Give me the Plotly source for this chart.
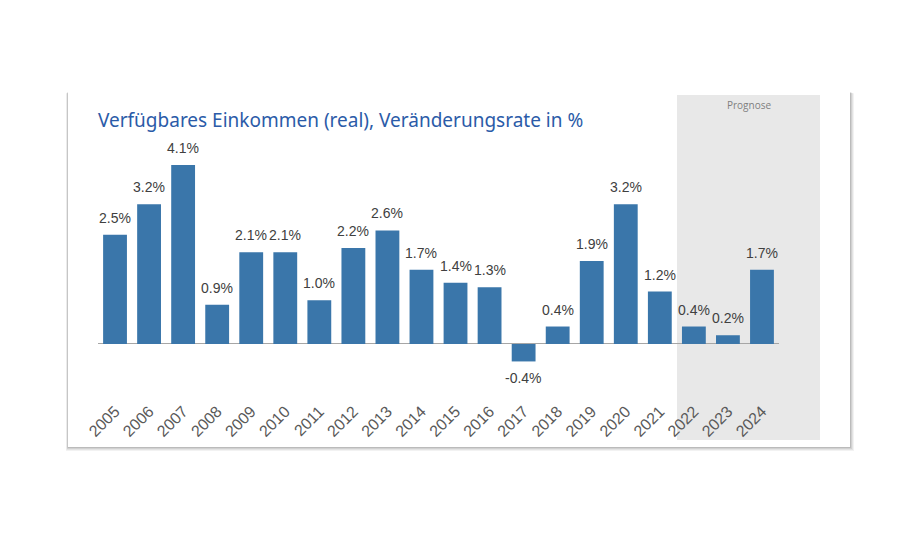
import plotly.graph_objects as go

years = [str(y) for y in range(2005, 2025)]
values = [2.5, 3.2, 4.1, 0.9, 2.1, 2.1, 1.0, 2.2, 2.6, 1.7, 1.4, 1.3, -0.4, 0.4, 1.9, 3.2, 1.2, 0.4, 0.2, 1.7]
title_text = "Verfügbares Einkommen (real), Veränderungsrate in %"
forecast_label = "Prognose"

OFF = 8  # page body margin
W, H = 904, 524
def px(x):
    return (x - OFF) / W
def py(y):
    return (H - (y - OFF)) / H

fig = go.Figure()
fig.add_trace(go.Bar(
    x=years, y=values,
    marker=dict(color="#3a76aa", line=dict(width=0)),
    hoverinfo="x+y",
))

annotations = []
for i, v in enumerate(values):
    annotations.append(dict(
        x=i, y=v, xref="x", yref="y", text=f"{v:.1f}%", showarrow=False,
        yanchor="bottom" if v >= 0 else "top", yshift=7 if v >= 0 else -7,
        font=dict(family="Liberation Sans, Arial", size=14, color="#404040"),
    ))

shapes = []
# card shadow
for k, a in enumerate([0.05, 0.06, 0.08, 0.10]):
    d = 4 - k
    shapes.append(dict(type="rect", xref="paper", yref="paper", layer="below",
                       x0=px(68 - d * 0.5), x1=px(850 + d), y0=py(447 + d), y1=py(92 + d * 0.3),
                       fillcolor=f"rgba(0,0,0,{a})", line=dict(width=0)))
# card
shapes.append(dict(type="rect", xref="paper", yref="paper", layer="below",
                   x0=px(68), x1=px(850), y0=py(447), y1=py(92),
                   fillcolor="white", line=dict(width=0)))
# forecast shading
shapes.append(dict(type="rect", xref="paper", yref="paper", layer="below",
                   x0=px(677), x1=px(820), y0=py(440), y1=py(95),
                   fillcolor="#e8e8e8", line=dict(width=0)))

annotations += [
    dict(text=title_text, xref="paper", yref="paper", x=px(96), y=py(120),
         xanchor="left", yanchor="middle", showarrow=False,
         font=dict(family="Noto Sans", size=19, color="#2b5ba8")),
    dict(text=forecast_label, xref="paper", yref="paper", x=px(749), y=py(105),
         xanchor="center", yanchor="middle", showarrow=False,
         font=dict(family="Open Sans", size=10, color="#7f7f7f")),
]

fig.update_layout(
    width=W, height=H,
    margin=dict(l=0, r=0, t=0, b=0, autoexpand=False),
    paper_bgcolor="white", plot_bgcolor="rgba(0,0,0,0)",
    showlegend=False,
    bargap=0.3,
    shapes=shapes,
    xaxis=dict(type="category", domain=[px(98), px(779)], range=[-0.5, len(years) - 0.5],
               showgrid=False, showline=False,
               tickangle=-45, ticks="", automargin=False, ticklabelstandoff=6,
               tickfont=dict(family="Liberation Sans, Arial", size=16, color="#595959")),
    yaxis=dict(domain=[py(392), py(147.5)], range=[-1.1, 4.5], showgrid=False, automargin=False,
               showticklabels=False, zeroline=True, zerolinecolor="#a6a6a6", zerolinewidth=1.3),
    annotations=annotations,
)

fig.write_html("out.html")
